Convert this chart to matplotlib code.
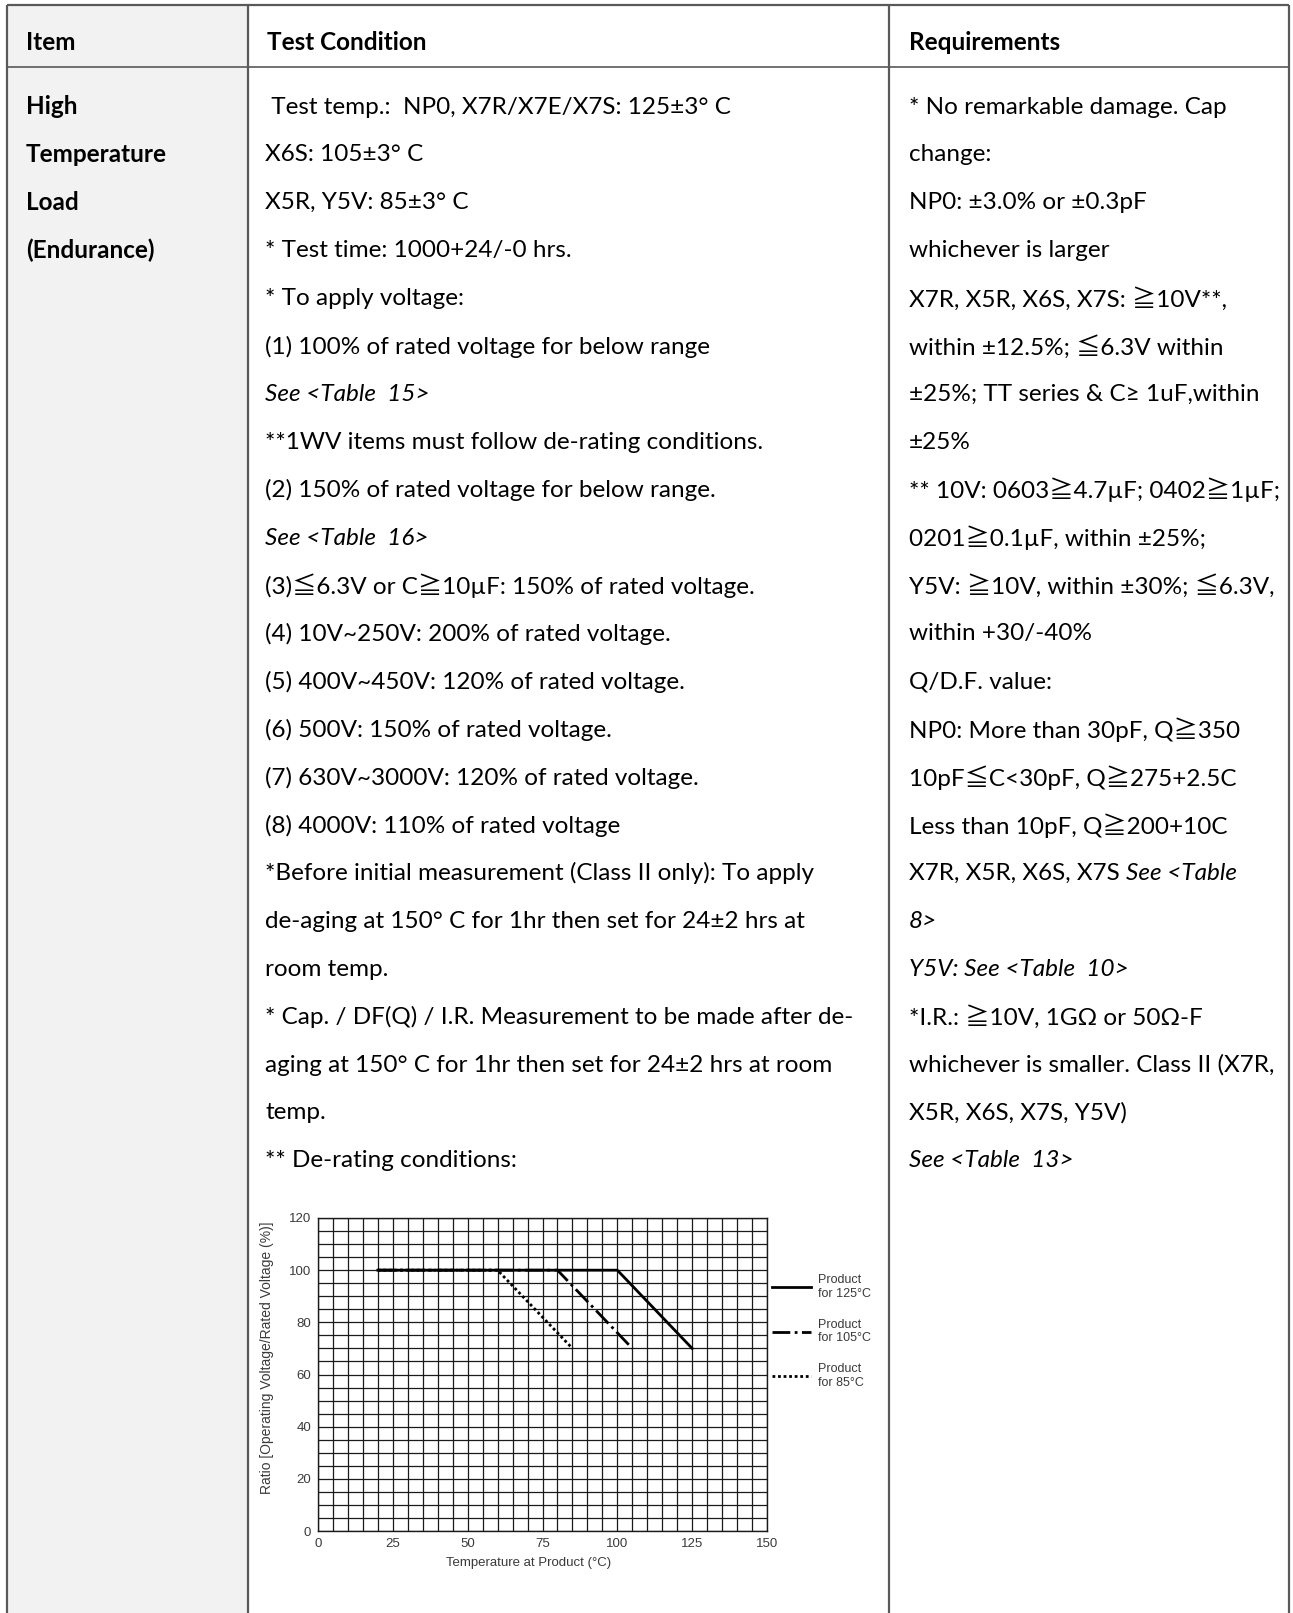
import matplotlib
matplotlib.use('Agg')
import matplotlib.pyplot as plt
import numpy as np

# Table content
header = ['Item', 'Test Condition', 'Requirements']

item_lines = ['High', 'Temperature', 'Load', '(Endurance)']

# (text, italic)
cond_lines = [
    (' Test temp.:  NP0, X7R/X7E/X7S: 125±3° C', False),
    ('X6S: 105±3° C', False),
    ('X5R, Y5V: 85±3° C', False),
    ('* Test time: 1000+24/-0 hrs.', False),
    ('* To apply voltage:', False),
    ('(1) 100% of rated voltage for below range', False),
    ('See <Table  15>', True),
    ('**1WV items must follow de-rating conditions.', False),
    ('(2) 150% of rated voltage for below range.', False),
    ('See <Table  16>', True),
    ('(3)≦6.3V or C≧10µF: 150% of rated voltage.', False),
    ('(4) 10V~250V: 200% of rated voltage.', False),
    ('(5) 400V~450V: 120% of rated voltage.', False),
    ('(6) 500V: 150% of rated voltage.', False),
    ('(7) 630V~3000V: 120% of rated voltage.', False),
    ('(8) 4000V: 110% of rated voltage', False),
    ('*Before initial measurement (Class II only): To apply', False),
    ('de-aging at 150° C for 1hr then set for 24±2 hrs at', False),
    ('room temp.', False),
    ('* Cap. / DF(Q) / I.R. Measurement to be made after de-', False),
    ('aging at 150° C for 1hr then set for 24±2 hrs at room', False),
    ('temp.', False),
    ('** De-rating conditions:', False),
]

# (plain part, italic part)
req_lines = [
    ('* No remarkable damage. Cap', ''),
    ('change:', ''),
    ('NP0: ±3.0% or ±0.3pF', ''),
    ('whichever is larger', ''),
    ('X7R, X5R, X6S, X7S: ≧10V**,', ''),
    ('within ±12.5%; ≦6.3V within', ''),
    ('±25%; TT series & C≥ 1uF,within', ''),
    ('±25%', ''),
    ('** 10V: 0603≧4.7µF; 0402≧1µF;', ''),
    ('0201≧0.1µF, within ±25%;', ''),
    ('Y5V: ≧10V, within ±30%; ≦6.3V,', ''),
    ('within +30/-40%', ''),
    ('Q/D.F. value:', ''),
    ('NP0: More than 30pF, Q≧350', ''),
    ('10pF≦C<30pF, Q≧275+2.5C', ''),
    ('Less than 10pF, Q≧200+10C', ''),
    ('X7R, X5R, X6S, X7S ', 'See <Table'),
    ('', '8>'),
    ('', 'Y5V: See <Table  10>'),
    ('*I.R.: ≧10V, 1GΩ or 50Ω-F', ''),
    ('whichever is smaller. Class II (X7R,', ''),
    ('X5R, X6S, X7S, Y5V)', ''),
    ('', 'See <Table  13>'),
]

# De-rating chart data
temp_125 = [20, 100, 125]
ratio_125 = [100, 100, 70]
temp_105 = [20, 80, 105]
ratio_105 = [100, 100, 70]
temp_85 = [20, 60, 85]
ratio_85 = [100, 100, 70]
legend_labels = ['Product\nfor 125°C', 'Product\nfor 105°C', 'Product\nfor 85°C']

W, H = 1293, 1613
fig = plt.figure(figsize=(W / 100, H / 100), dpi=100)
ax = fig.add_axes([0, 0, 1, 1])
ax.set_xlim(0, W)
ax.set_ylim(H, 0)
ax.axis('off')

fam = ['Lato', 'Noto Sans CJK SC', 'DejaVu Sans']
fs = 17.5
line_col = '#595959'

# table frame
x_left, x_c1, x_c2, x_right = 7, 248, 889, 1289
y_top, y_head = 5, 67
ax.fill_between([x_left, x_c1], y_top, H, color='#f2f2f2', zorder=0)
ax.hlines([y_top], x_left, x_right, color=line_col, lw=1.6)
ax.hlines([y_head], x_left, x_right, color=line_col, lw=1.2)
ax.vlines([x_left, x_c1, x_c2, x_right], y_top, H, color=line_col, lw=1.6)

# header
ax.text(26, 43, header[0], fontsize=fs, fontweight='bold', family=fam, va='center')
ax.text(267, 43, header[1], fontsize=fs, fontweight='bold', family=fam, va='center')
ax.text(909, 43, header[2], fontsize=fs, fontweight='bold', family=fam, va='center')

y0, dy = 107, 47.9
for i, t in enumerate(item_lines):
    ax.text(26, y0 + i * dy, t, fontsize=fs, fontweight='bold', family=fam, va='center')

for i, (t, it) in enumerate(cond_lines):
    ax.text(265, y0 + i * dy, t, fontsize=fs, family=fam, va='center',
            style='italic' if it else 'normal')

renderer = fig.canvas.get_renderer()
for i, (plain, ital) in enumerate(req_lines):
    x = 909
    if plain:
        tx = ax.text(x, y0 + i * dy, plain, fontsize=fs, family=fam, va='center')
        bb = tx.get_window_extent(renderer)
        x += bb.width
    if ital:
        ax.text(x, y0 + i * dy, ital, fontsize=fs, family=fam, va='center', style='italic')

# de-rating chart
cax = fig.add_axes([318 / W, 1 - 1531 / H, 449 / W, 313 / H])
cax.set_xlim(0, 150)
cax.set_ylim(0, 120)
cax.set_xticks(np.arange(0, 151, 25))
cax.set_yticks(np.arange(0, 121, 20))
cax.set_xticks(np.arange(0, 151, 5), minor=True)
cax.set_yticks(np.arange(0, 121, 5), minor=True)
cax.grid(which='both', color='#1a1a1a', lw=0.9)
cax.set_axisbelow(True)
cax.tick_params(which='both', length=0, labelsize=9.5, labelcolor='#3a3a3a', pad=5)
for lab in cax.get_xticklabels() + cax.get_yticklabels():
    lab.set_family('Liberation Sans')
for s in cax.spines.values():
    s.set_color('#1a1a1a')
    s.set_linewidth(1.0)

l125, = cax.plot(temp_125, ratio_125, color='black', lw=2.0, ls='-')
l105, = cax.plot(temp_105, ratio_105, color='black', lw=2.0, ls='-.')
l85, = cax.plot(temp_85, ratio_85, color='black', lw=2.0, ls=(0, (1, 1)))

cax.set_xlabel('Temperature at Product (°C)', fontsize=9.5, color='#3a3a3a',
               family='Liberation Sans')
cax.set_ylabel('Ratio [Operating Voltage/Rated Voltage (%)]', fontsize=10,
               color='#3a3a3a', family='Liberation Sans')
cax.xaxis.set_label_coords(0.468, -0.083)
cax.yaxis.set_label_coords(-0.098, 0.554)

leg = cax.legend([l125, l105, l85], legend_labels, loc='upper left',
                 bbox_to_anchor=(1.011, 0.821), frameon=False, borderaxespad=0,
                 borderpad=0, handlelength=3.1, handletextpad=0.56, labelspacing=1.5,
                 prop={'family': 'Liberation Sans', 'size': 9})
for t in leg.get_texts():
    t.set_color('#3a3a3a')

fig.savefig('out.png', dpi=100)
